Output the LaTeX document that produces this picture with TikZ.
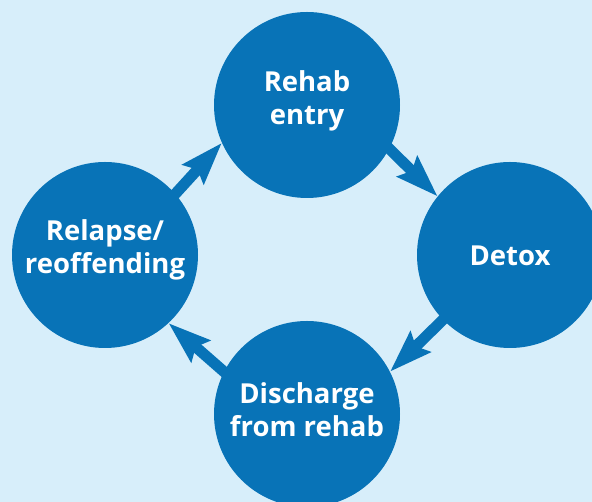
\documentclass[tikz,border=0pt]{standalone}
\usepackage{fontspec}
\setmainfont{Open Sans}
\usetikzlibrary{arrows.meta}
\definecolor{bgblue}{RGB}{215,238,250}
\definecolor{cblue}{RGB}{8,115,183}
\begin{document}
\begin{tikzpicture}[x=1pt,y=1pt,
  stagecircle/.style={circle, fill=cblue, draw=none, minimum size=186pt, inner sep=0pt},
  stagetext/.style={text=white, align=center, font=\fontsize{27.5}{33}\selectfont\bfseries},
  cyclearrow/.style={draw=cblue, line width=11pt, shorten <=-12pt,
    -{Stealth[length=42pt, width=28pt, inset=6pt]}}]
\useasboundingbox (0,0) rectangle (592,502);
\clip (0,0) rectangle (592,502);
\fill[bgblue] (0,0) rectangle (592,502);
\node[stagecircle] (rehab) at (307,397) {};
\node[stagecircle] (detox) at (510,247) {};
\node[stagecircle] (discharge) at (307,88) {};
\node[stagecircle] (relapse) at (105,247) {};
\node[stagetext] (rehabt) at ([yshift=4pt]rehab.center) {Rehab\\entry};
\node[stagetext] (detoxt) at ([yshift=-1pt]detox.center) {Detox};
\node[stagetext] (discharget) at ([yshift=4pt]discharge.center) {Discharge\\from rehab};
\node[stagetext] (relapset) at ([yshift=5pt]relapse.center) {Relapse/\\reoffending};
\draw[cyclearrow] (relapse.41) -- (rehab.204);
\draw[cyclearrow] (rehab.-28) -- (detox.141);
\draw[cyclearrow] (detox.224) -- (discharge.27);
\draw[cyclearrow] (discharge.153) -- (relapse.-47);
\end{tikzpicture}
\end{document}
